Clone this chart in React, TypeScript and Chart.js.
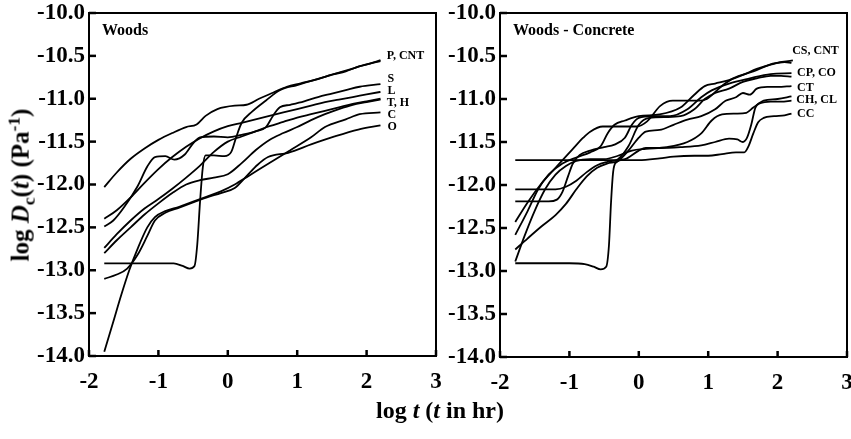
import React, { useEffect, useRef } from "react";
import { Chart, registerables } from "chart.js";
Chart.register(...registerables);

// ---------- axes ----------
const xTickValues = [-2, -1, 0, 1, 2, 3];
const yTickValues = [-14, -13.5, -13, -12.5, -12, -11.5, -11, -10.5, -10];

// ---------- Woods panel series: [log t, log Dc] ----------
const W_P = [[-1.78,-12.03],[-1.6,-11.86],[-1.4,-11.7],[-1.2,-11.58],[-1.0,-11.48],[-0.8,-11.4],[-0.6,-11.33],[-0.45,-11.3],[-0.32,-11.2],[-0.15,-11.12],[0.1,-11.08],[0.27,-11.07],[0.45,-11.0],[0.65,-10.93],[0.85,-10.86],[1.05,-10.82],[1.3,-10.77],[1.5,-10.72],[1.7,-10.68],[1.9,-10.62],[2.05,-10.59],[2.2,-10.55]];
const W_CNT = [[-1.78,-12.92],[-1.4,-12.92],[-1.0,-12.92],[-0.78,-12.92],[-0.65,-12.95],[-0.55,-12.98],[-0.48,-12.95],[-0.44,-12.7],[-0.4,-12.2],[-0.36,-11.8],[-0.32,-11.66],[-0.2,-11.66],[-0.05,-11.67],[0.05,-11.62],[0.12,-11.45],[0.2,-11.28],[0.35,-11.15],[0.55,-11.02],[0.75,-10.9],[1.0,-10.84],[1.25,-10.78],[1.5,-10.72],[1.75,-10.66],[2.0,-10.6],[2.2,-10.56]];
const W_S = [[-1.78,-12.49],[-1.65,-12.42],[-1.49,-12.26],[-1.3,-12.02],[-1.16,-11.79],[-1.05,-11.68],[-0.9,-11.67],[-0.77,-11.71],[-0.62,-11.65],[-0.5,-11.52],[-0.4,-11.45],[-0.2,-11.44],[0.0,-11.45],[0.2,-11.42],[0.4,-11.38],[0.55,-11.33],[0.65,-11.2],[0.75,-11.1],[0.9,-11.07],[1.1,-11.03],[1.3,-10.98],[1.5,-10.94],[1.7,-10.9],[1.9,-10.86],[2.2,-10.83]];
const W_L = [[-1.78,-12.40],[-1.6,-12.3],[-1.4,-12.15],[-1.2,-11.98],[-1.0,-11.82],[-0.8,-11.68],[-0.6,-11.56],[-0.4,-11.46],[-0.2,-11.38],[0,-11.32],[0.2,-11.28],[0.4,-11.24],[0.6,-11.2],[0.8,-11.16],[1.0,-11.12],[1.2,-11.08],[1.4,-11.04],[1.6,-11.01],[1.8,-10.98],[2.0,-10.95],[2.2,-10.92]];
const W_T = [[-1.78,-12.74],[-1.6,-12.58],[-1.4,-12.42],[-1.2,-12.28],[-1.0,-12.17],[-0.8,-12.05],[-0.6,-11.92],[-0.4,-11.78],[-0.2,-11.62],[0,-11.5],[0.2,-11.44],[0.4,-11.38],[0.6,-11.32],[0.8,-11.27],[1.0,-11.22],[1.2,-11.18],[1.4,-11.14],[1.6,-11.1],[1.8,-11.06],[2.0,-11.03],[2.2,-11.0]];
const W_H = [[-1.78,-12.80],[-1.6,-12.65],[-1.4,-12.5],[-1.2,-12.35],[-1.0,-12.22],[-0.8,-12.1],[-0.6,-12.0],[-0.4,-11.95],[-0.2,-11.92],[0,-11.88],[0.2,-11.75],[0.4,-11.6],[0.6,-11.48],[0.8,-11.4],[1.0,-11.33],[1.2,-11.25],[1.4,-11.18],[1.6,-11.12],[1.8,-11.07],[2.0,-11.04],[2.2,-11.01]];
const W_C = [[-1.78,-13.95],[-1.65,-13.6],[-1.54,-13.3],[-1.42,-13.0],[-1.3,-12.75],[-1.16,-12.5],[-1.05,-12.38],[-0.9,-12.31],[-0.7,-12.26],[-0.5,-12.2],[-0.3,-12.14],[-0.1,-12.08],[0.1,-12.0],[0.3,-11.9],[0.5,-11.8],[0.7,-11.7],[0.9,-11.6],[1.2,-11.45],[1.4,-11.33],[1.7,-11.24],[1.9,-11.18],[2.2,-11.16]];
const W_O = [[-1.78,-13.10],[-1.6,-13.05],[-1.45,-12.98],[-1.3,-12.82],[-1.16,-12.6],[-1.05,-12.42],[-0.9,-12.33],[-0.7,-12.27],[-0.5,-12.21],[-0.3,-12.15],[-0.1,-12.1],[0.1,-12.04],[0.25,-11.92],[0.43,-11.77],[0.58,-11.68],[0.87,-11.63],[1.21,-11.53],[1.54,-11.44],[1.88,-11.36],[2.2,-11.31]];

// ---------- Woods - Concrete panel series ----------
const C_CS = [[-1.78,-12.43],[-1.6,-12.2],[-1.42,-12.0],[-1.2,-11.8],[-0.95,-11.58],[-0.8,-11.45],[-0.7,-11.38],[-0.52,-11.32],[-0.2,-11.32],[-0.03,-11.32],[0.12,-11.26],[0.31,-11.08],[0.49,-11.02],[0.88,-11.02],[0.98,-11.0],[1.21,-10.84],[1.36,-10.76],[1.65,-10.68],[1.93,-10.59],[2.22,-10.55]];
const C_CNT = [[-1.78,-12.58],[-1.6,-12.3],[-1.45,-12.05],[-1.3,-11.88],[-1.1,-11.75],[-0.9,-11.68],[-0.7,-11.62],[-0.55,-11.55],[-0.45,-11.4],[-0.35,-11.3],[-0.2,-11.25],[0,-11.2],[0.3,-11.18],[0.6,-11.1],[0.8,-10.95],[0.95,-10.85],[1.1,-10.82],[1.3,-10.78],[1.5,-10.72],[1.7,-10.65],[1.9,-10.6],[2.1,-10.57],[2.2,-10.58]];
const C_CP = [[-1.78,-12.19],[-1.5,-12.19],[-1.3,-12.19],[-1.18,-12.17],[-1.1,-12.08],[-1.02,-11.9],[-0.95,-11.75],[-0.85,-11.65],[-0.7,-11.6],[-0.5,-11.56],[-0.35,-11.53],[-0.2,-11.45],[-0.1,-11.3],[0,-11.22],[0.2,-11.2],[0.45,-11.2],[0.7,-11.12],[0.9,-10.98],[1.05,-10.9],[1.3,-10.82],[1.6,-10.76],[1.9,-10.71],[2.2,-10.70]];
const C_CO = [[-1.78,-12.05],[-1.5,-12.05],[-1.2,-12.05],[-1.05,-12.02],[-0.9,-11.95],[-0.75,-11.85],[-0.6,-11.77],[-0.45,-11.73],[-0.3,-11.7],[-0.15,-11.55],[0,-11.3],[0.15,-11.22],[0.4,-11.21],[0.6,-11.2],[0.8,-11.12],[0.95,-11.0],[1.1,-10.93],[1.3,-10.88],[1.5,-10.8],[1.7,-10.76],[1.9,-10.73],[2.05,-10.73],[2.2,-10.74]];
const C_CT = [[-1.78,-12.75],[-1.6,-12.62],[-1.4,-12.48],[-1.2,-12.35],[-1.05,-12.22],[-0.9,-12.05],[-0.75,-11.9],[-0.6,-11.8],[-0.45,-11.75],[-0.3,-11.72],[-0.15,-11.6],[0,-11.45],[0.1,-11.38],[0.3,-11.36],[0.5,-11.3],[0.7,-11.24],[0.9,-11.2],[1.1,-11.12],[1.25,-11.02],[1.4,-10.98],[1.5,-10.93],[1.6,-10.95],[1.7,-10.88],[1.85,-10.86],[2.0,-10.86],[2.2,-10.85]];
const C_CH = [[-1.78,-12.89],[-1.65,-12.6],[-1.5,-12.3],[-1.35,-12.05],[-1.2,-11.88],[-1.05,-11.78],[-0.9,-11.72],[-0.7,-11.7],[-0.5,-11.7],[-0.3,-11.66],[-0.1,-11.6],[0.1,-11.58],[0.4,-11.56],[0.7,-11.5],[0.9,-11.4],[1.05,-11.25],[1.2,-11.18],[1.4,-11.17],[1.55,-11.16],[1.65,-11.1],[1.8,-11.02],[2.0,-11.0],[2.2,-10.97]];
const C_CL = [[-1.78,-12.91],[-1.4,-12.91],[-1.0,-12.91],[-0.78,-12.92],[-0.65,-12.95],[-0.55,-12.98],[-0.47,-12.95],[-0.43,-12.7],[-0.4,-12.2],[-0.37,-11.85],[-0.33,-11.74],[-0.2,-11.7],[0,-11.6],[0.1,-11.57],[0.3,-11.57],[0.6,-11.56],[0.9,-11.54],[1.1,-11.5],[1.3,-11.46],[1.42,-11.47],[1.5,-11.5],[1.56,-11.45],[1.62,-11.3],[1.68,-11.1],[1.75,-11.05],[1.9,-11.03],[2.05,-11.03],[2.2,-11.02]];
const C_CC = [[-1.78,-11.71],[-1.0,-11.71],[-0.5,-11.71],[0,-11.71],[0.3,-11.69],[0.5,-11.67],[0.8,-11.66],[1.0,-11.66],[1.2,-11.64],[1.4,-11.62],[1.52,-11.62],[1.58,-11.55],[1.65,-11.4],[1.72,-11.27],[1.8,-11.22],[1.95,-11.2],[2.1,-11.19],[2.2,-11.17]];

const woodsSeries = [W_P, W_CNT, W_S, W_L, W_T, W_H, W_C, W_O];
const concreteSeries = [C_CS, C_CNT, C_CP, C_CO, C_CT, C_CH, C_CL, C_CC];

// ---------- curve end labels: [text, log t, log Dc] ----------
const woodsLabels = [["P, CNT", 2.29, -10.5], ["S", 2.3, -10.77], ["L", 2.3, -10.91], ["T, H", 2.29, -11.05], ["C", 2.3, -11.19], ["O", 2.3, -11.33]];
const concreteLabels = [["CS, CNT", 2.21, -10.44], ["CP, CO", 2.28, -10.7], ["CT", 2.28, -10.87], ["CH, CL", 2.27, -11.01], ["CC", 2.28, -11.17]];

const SERIF = "'Liberation Serif', 'Times New Roman', serif";

function makeOverlay(title: string, labels: any[]) {
  return {
    id: "overlay",
    afterDraw(chart: any) {
      const { ctx, chartArea, scales } = chart;
      const { left, right, top, bottom } = chartArea;
      const xs = scales.x, ys = scales.y;
      ctx.save();
      ctx.strokeStyle = "#000";
      ctx.lineWidth = 2;
      ctx.strokeRect(left, top, right - left, bottom - top);
      ctx.lineWidth = 2.5;
      yTickValues.forEach((v) => {
        const py = ys.getPixelForValue(v);
        ctx.beginPath(); ctx.moveTo(left, py); ctx.lineTo(left + 7, py); ctx.stroke();
      });
      xTickValues.forEach((v) => {
        const px = xs.getPixelForValue(v);
        ctx.beginPath(); ctx.moveTo(px, bottom); ctx.lineTo(px, bottom - 6); ctx.stroke();
      });
      ctx.fillStyle = "#000";
      ctx.textBaseline = "middle";
      ctx.textAlign = "left";
      ctx.font = `bold 16px ${SERIF}`;
      ctx.fillText(title, left + 13, top + 18);
      ctx.font = `bold 12px ${SERIF}`;
      labels.forEach(([t, x, y]) => {
        ctx.fillText(t, xs.getPixelForValue(x), ys.getPixelForValue(y));
      });
      ctx.restore();
    },
  };
}

function makeChart(canvas: HTMLCanvasElement, series: number[][][], title: string, labels: any[], yWidth: number, xHeight: number, padRight: number) {
  const tickFont = { family: SERIF, weight: "bold" as const, size: 23 };
  return new Chart(canvas, {
    type: "line",
    data: {
      datasets: series.map((s) => ({
        data: s.map(([x, y]) => ({ x, y })),
        borderColor: "#000",
        borderWidth: 1.8,
        pointRadius: 0,
        fill: false,
        cubicInterpolationMode: "monotone" as const,
      })),
    },
    options: {
      animation: false,
      responsive: false,
      maintainAspectRatio: false,
      layout: { padding: { left: 0, top: 13, right: padRight, bottom: 0 } },
      plugins: { legend: { display: false }, tooltip: { enabled: false } },
      scales: {
        x: {
          type: "linear",
          min: -2, max: 3,
          grid: { display: false, drawTicks: false },
          border: { display: false },
          ticks: { stepSize: 1, font: tickFont, color: "#000", padding: 12, maxRotation: 0, callback: (v: any) => String(v) },
          afterFit: (s: any) => { s.height = xHeight; s.paddingLeft = 0; s.paddingRight = 0; },
        },
        y: {
          min: -14, max: -10,
          grid: { display: false, drawTicks: false },
          border: { display: false },
          ticks: { stepSize: 0.5, font: tickFont, color: "#000", padding: 4, callback: (v: any) => Number(v).toFixed(1) },
          afterFit: (s: any) => { s.width = yWidth; s.paddingTop = 0; s.paddingBottom = 0; },
        },
      },
    },
    plugins: [makeOverlay(title, labels)],
  });
}

export default function App() {
  const leftRef = useRef<HTMLCanvasElement>(null);
  const rightRef = useRef<HTMLCanvasElement>(null);
  useEffect(() => {
    const a = makeChart(leftRef.current!, woodsSeries, "Woods", woodsLabels, 89, 44, 14);
    const b = makeChart(rightRef.current!, concreteSeries, "Woods - Concrete", concreteLabels, 60, 43, 4);
    return () => { a.destroy(); b.destroy(); };
  }, []);
  return (
    <div style={{ position: "absolute", left: 0, top: 0, width: 851, height: 439, background: "#fff", fontFamily: SERIF }}>
      <canvas ref={leftRef} width={450} height={400} style={{ position: "absolute", left: 0, top: 0, width: 450, height: 400 }} />
      <canvas ref={rightRef} width={411} height={400} style={{ position: "absolute", left: 440, top: 0, width: 411, height: 400 }} />
      <div style={{ position: "absolute", left: 22, top: 185, transform: "translate(-50%, -50%) rotate(-90deg)", whiteSpace: "nowrap", fontWeight: "bold", fontSize: 25, lineHeight: 1 }}>
        log <i>D</i><sub style={{ fontSize: "0.7em" }}>c</sub>(<i>t</i>) (Pa<sup style={{ fontSize: "0.7em" }}>-1</sup>)
      </div>
      <div style={{ position: "absolute", left: 440, top: 410, transform: "translate(-50%, -50%)", whiteSpace: "nowrap", fontWeight: "bold", fontSize: 24, lineHeight: 1 }}>
        log <i>t</i> (<i>t</i> in hr)
      </div>
    </div>
  );
}
